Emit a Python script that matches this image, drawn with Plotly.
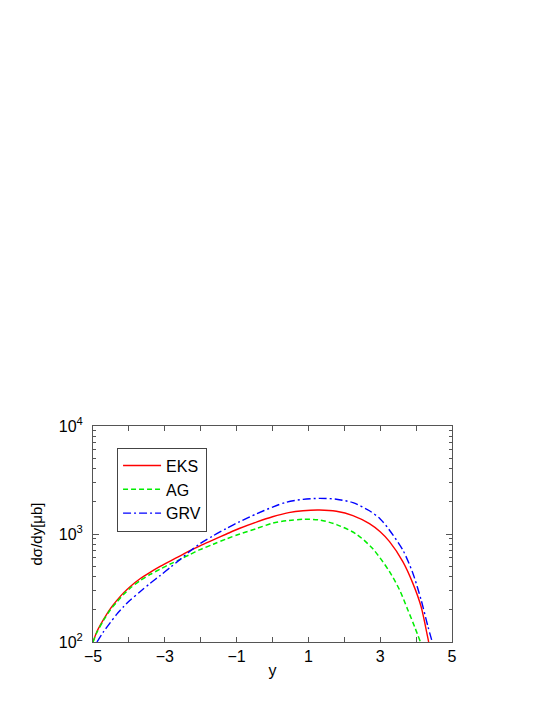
import plotly.graph_objects as go

# rapidity values and cross sections (dsigma/dy in microbarn)
eks_y = [-5.0, -4.89, -4.71, -4.52, -4.33, -4.15, -3.96, -3.69, -3.41, -3.13, -2.85,
         -2.57, -2.30, -2.02, -1.65, -1.28, -0.91, -0.45, 0.0, 0.45, 0.85, 1.31,
         1.78, 2.24, 2.70, 3.0, 3.26, 3.63, 3.91, 4.14, 4.32, 4.35]
eks_sigma = [100, 125, 161, 203, 244, 285, 327, 385, 442, 501, 562,
             628, 700, 776, 881, 1000, 1130, 1288, 1445, 1578, 1644, 1667,
             1622, 1479, 1245, 1047, 849, 555, 349, 212, 112, 100]

ag_y = [-5.0, -4.89, -4.71, -4.52, -4.33, -4.15, -3.96, -3.69, -3.41, -3.13, -2.85,
        -2.57, -2.30, -2.02, -1.65, -1.28, -0.91, -0.45, 0.0, 0.45, 0.85, 1.31,
        1.80, 2.33, 2.79, 3.26, 3.54, 3.77, 3.96, 4.12]
ag_sigma = [100, 123, 158, 198, 236, 275, 316, 369, 422, 473, 527,
            582, 646, 716, 804, 902, 1000, 1122, 1259, 1334, 1368, 1349,
            1216, 1000, 733, 448, 303, 198, 138, 100]

grv_y = [-4.89, -4.71, -4.52, -4.33, -4.15, -3.96, -3.69, -3.41, -3.13, -2.85,
         -2.57, -2.30, -2.02, -1.65, -1.28, -0.91, -0.45, 0.0, 0.39, 0.85, 1.31,
         1.78, 2.24, 2.70, 3.0, 3.26, 3.63, 3.91, 4.14, 4.33, 4.45]
grv_sigma = [100, 124, 151, 182, 212, 245, 292, 349, 412, 490,
             582, 692, 813, 964, 1127, 1303, 1535, 1774, 1972, 2094, 2138,
             2099, 1950, 1641, 1380, 1084, 711, 433, 245, 139, 100]

x_ticks = [-5, -3, -1, 1, 3, 5]
x_tick_labels = ["\u22125", "\u22123", "\u22121", "1", "3", "5"]
y_ticks = [100, 1000, 10000]
y_tick_labels = ["10<sup>2</sup>", "10<sup>3</sup>", "10<sup>4</sup>"]
y_minor_ticks = [m * 10 ** e for e in (2, 3) for m in range(2, 10)]

font_family = "Liberation Sans, Arial, sans-serif"
axis_grey = "#555"

fig = go.Figure()
fig.add_trace(go.Scatter(x=eks_y, y=eks_sigma, mode="lines", name="EKS",
                         line=dict(color="#ff0000", width=1.4, shape="spline", smoothing=0.8)))
fig.add_trace(go.Scatter(x=ag_y, y=ag_sigma, mode="lines", name="AG",
                         line=dict(color="#00ee00", width=1.5, dash="5px,3px",
                                   shape="spline", smoothing=0.8)))
fig.add_trace(go.Scatter(x=grv_y, y=grv_sigma, mode="lines", name="GRV",
                         line=dict(color="#0000ff", width=1.4, dash="8px,3px,2px,3px",
                                   shape="spline", smoothing=0.8)))

# the page body adds an 8px offset, so the figure is a bit smaller than the window
fig.update_layout(
    width=537,
    height=697,
    margin=dict(l=85, r=93, t=418, b=63),
    paper_bgcolor="white",
    plot_bgcolor="white",
    font=dict(family=font_family, size=16, color="black"),
    showlegend=True,
    legend=dict(
        x=0.067, y=0.9, xanchor="left", yanchor="top",
        bordercolor="#444", borderwidth=1, bgcolor="white",
        font=dict(size=16), tracegroupgap=0, itemwidth=38,
    ),
)

fig.update_xaxes(
    range=[-5, 5],
    tickvals=x_ticks,
    ticktext=x_tick_labels,
    ticks="inside",
    ticklen=5,
    tickcolor=axis_grey,
    minor=dict(dtick=1, tick0=-5, ticks="inside", ticklen=5, tickcolor=axis_grey),
    showline=True,
    linecolor=axis_grey,
    linewidth=1,
    mirror="ticks",
    showgrid=False,
    zeroline=False,
    tickfont=dict(size=16),
    title=dict(text="y", font=dict(size=16), standoff=0),
)

fig.update_yaxes(
    type="log",
    range=[2, 4],
    tickvals=y_ticks,
    ticktext=y_tick_labels,
    ticks="inside",
    ticklen=6,
    tickcolor=axis_grey,
    minor=dict(tickvals=y_minor_ticks, ticks="inside", ticklen=3,
               tickcolor=axis_grey, showgrid=False),
    showline=True,
    linecolor=axis_grey,
    linewidth=1,
    mirror="ticks",
    showgrid=False,
    zeroline=False,
    tickfont=dict(size=16),
    ticklabelstandoff=6,
    title=dict(text="d\u03c3/dy[\u03bcb]", font=dict(size=15), standoff=12),
)

fig.write_html("out.html")
